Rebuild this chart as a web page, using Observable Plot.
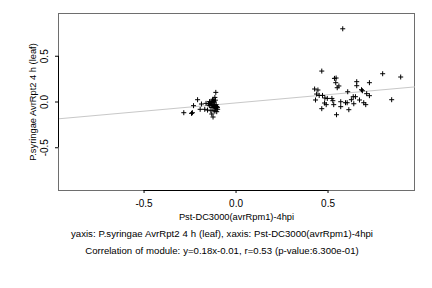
<!DOCTYPE html>
<html>
<head>
<meta charset="utf-8">
<script src="https://cdn.jsdelivr.net/npm/d3@7"></script>
<script src="https://cdn.jsdelivr.net/npm/@observablehq/plot@0.6"></script>
<style>
  body { margin: 0; background: #fff; }
  #wrap { width: 432px; height: 288px; font-family: "Liberation Sans", Arial, sans-serif; }
  .cap { width: 432px; padding-left: 12px; box-sizing: border-box; text-align: center; font-size: 9.6px; line-height: 17px; color: #000; white-space: nowrap; word-spacing: 0.3px; }
</style>
</head>
<body>
<div id="wrap"></div>
<script>
// ---- data ----
const xLabel = "Pst-DC3000(avrRpm1)-4hpi";
const yLabel = "P.syringae AvrRpt2 4 h (leaf)";
const caption1 = "yaxis: P.syringae AvrRpt2 4 h (leaf), xaxis: Pst-DC3000(avrRpm1)-4hpi";
const caption2 = "Correlation of module: y=0.18x-0.01, r=0.53 (p-value:6.300e-01)";
const slope = 0.18;
const intercept = -0.01;
const tickValues = [-0.5, 0, 0.5];
const xDomain = [-0.965, 0.97];
const yDomain = [-0.967, 0.967];

const xs = [
  -0.284, -0.242, -0.237, -0.231, -0.209, -0.195, -0.188, -0.170, -0.163, -0.155,
  -0.144, -0.137, -0.132, -0.125, -0.110, -0.115, -0.105, -0.101,
  -0.140, -0.135, -0.130, -0.128, -0.125, -0.122, -0.120, -0.118, -0.115, -0.112,
  -0.110, -0.108, -0.105, -0.118, -0.125, -0.130, -0.135, -0.112, -0.100, -0.145,
  -0.150, -0.120, -0.115,
  0.580, 0.466, 0.535, 0.544, 0.542, 0.559, 0.550, 0.656, 0.656, 0.725,
  0.797, 0.895, 0.682, 0.687, 0.607, 0.427, 0.445, 0.438, 0.452, 0.470,
  0.432, 0.483, 0.496, 0.521, 0.526, 0.481, 0.490, 0.531, 0.466, 0.569,
  0.569, 0.595, 0.604, 0.613, 0.546, 0.627, 0.640, 0.637, 0.649, 0.671,
  0.694, 0.705, 0.710, 0.725, 0.846
];
const ys = [
  -0.117, -0.124, -0.117, -0.040, 0.025, -0.080, -0.022, -0.080, -0.015, -0.088,
  0.004, -0.095, -0.131, -0.164, 0.105, 0.050, -0.106, -0.059,
  -0.020, -0.010, 0.000, 0.020, 0.030, 0.010, -0.030, -0.050, -0.040, -0.060,
  -0.070, -0.030, -0.050, 0.000, -0.040, -0.060, -0.030, 0.020, -0.080, -0.040,
  -0.020, -0.090, -0.100,
  0.800, 0.338, 0.258, 0.262, 0.211, 0.175, 0.156, 0.222, 0.178, 0.211,
  0.309, 0.273, 0.134, 0.123, 0.112, 0.142, 0.131, 0.087, 0.072, 0.072,
  0.022, 0.044, 0.039, 0.039, 0.014, -0.011, -0.029, -0.029, -0.073, 0.003,
  -0.051, -0.008, -0.008, -0.084, -0.139, 0.025, -0.019, 0.058, 0.058, 0.022,
  -0.008, -0.029, 0.091, 0.069, 0.025
];

// ---- build ----
const points = xs.map((x, i) => ({x, y: ys[i]}));
const fitLine = xDomain.map(x => ({x, y: slope * x + intercept}));

const crossSymbol = {
  draw(context, size) {
    const r = Math.sqrt(size / Math.PI);
    context.moveTo(-r, 0); context.lineTo(r, 0);
    context.moveTo(0, -r); context.lineTo(0, r);
  }
};

const fmt = d => d.toFixed(1);

const chart = Plot.plot({
  width: 432,
  height: 225,
  marginLeft: 58,
  marginRight: 18,
  marginTop: 13,
  marginBottom: 35,
  style: {fontFamily: "Liberation Sans, Arial, sans-serif", fontSize: "9px", color: "#000", background: "#fff"},
  x: {domain: xDomain},
  y: {domain: yDomain},
  marks: [
    Plot.frame({stroke: "#6e6e6e"}),
    Plot.line(fitLine, {x: "x", y: "y", stroke: "#c8c8c8", strokeWidth: 1}),
    Plot.dot(points, {x: "x", y: "y", symbol: crossSymbol, r: 2.5, stroke: "#000", fill: "none", strokeWidth: 1}),
    Plot.ruleY([yDomain[0]], {x1: tickValues[0], x2: tickValues[tickValues.length - 1], stroke: "#000"}),
    Plot.ruleX([xDomain[0]], {y1: tickValues[0], y2: tickValues[tickValues.length - 1], stroke: "#000"}),
    Plot.axisX({ticks: tickValues, tickFormat: fmt, tickSize: 3, tickPadding: 6, fontSize: 10, label: null}),
    Plot.axisY({ticks: tickValues, tickFormat: fmt, tickSize: 3, tickPadding: 8, fontSize: 10, tickRotate: -90, label: null}),
    Plot.axisX({ticks: [], tickSize: 0, fontSize: 9.3, label: xLabel, labelAnchor: "center", labelArrow: "none", labelOffset: 29}),
    Plot.axisY({ticks: [], tickSize: 0, fontSize: 9.3, label: yLabel, labelAnchor: "center", labelArrow: "none", labelOffset: 29})
  ]
});

const wrap = document.getElementById("wrap");
wrap.appendChild(chart);
for (const t of [caption1, caption2]) {
  const d = document.createElement("div");
  d.className = "cap";
  d.textContent = t;
  wrap.appendChild(d);
}
</script>
</body>
</html>
